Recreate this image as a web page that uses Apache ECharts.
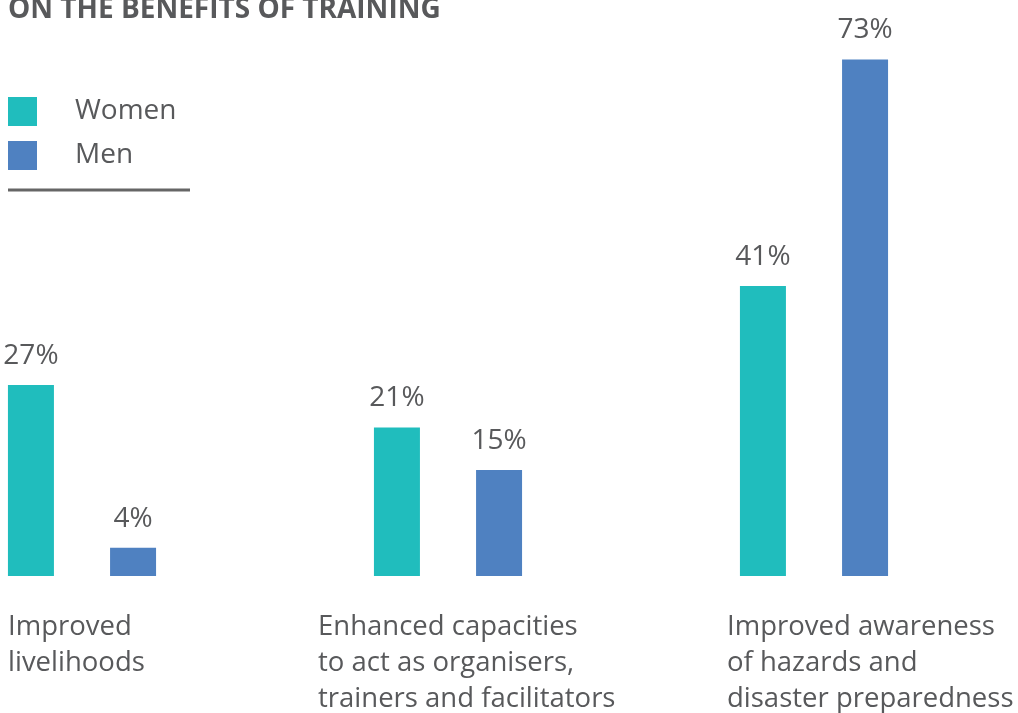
<!DOCTYPE html>
<html>
<head>
<meta charset="utf-8">
<script src="https://cdn.jsdelivr.net/npm/echarts@6/dist/echarts.min.js"></script>
<style>
  html, body { margin: 0; padding: 0; background: #fff; }
  #chart { width: 1018px; height: 713px; }
</style>
</head>
<body>
<div id="chart"></div>
<script>
var title = 'ON THE BENEFITS OF TRAINING'
var categories = [
  'Improved\nlivelihoods',
  'Enhanced capacities\nto act as organisers,\ntrainers and facilitators',
  'Improved awareness\nof hazards and\ndisaster preparedness'
]
var womenData = [27, 21, 41]
var menData = [4, 15, 73]

var textColor = '#58595b'
var font = '"Open Sans", sans-serif'
// label x offsets, the labels don't line up with the bars
var labelX = [8, 318, 727]

var chart = echarts.init(document.getElementById('chart'))

var graphics = [
  {
    type: 'text',
    left: 8,
    top: -4,
    style: { text: title, font: 'bold 28px ' + font, fill: textColor }
  },
  {
    type: 'line',
    shape: { x1: 8, y1: 190, x2: 190, y2: 190 },
    style: { stroke: '#666', lineWidth: 3 }
  }
]
categories.forEach(function (c, i) {
  graphics.push({
    type: 'text',
    left: labelX[i],
    top: 609,
    style: { text: c, font: '27.5px ' + font, fill: textColor, lineHeight: 36 }
  })
})

var labelStyle = {
  show: true,
  position: 'top',
  distance: 15,
  formatter: '{c}%',
  fontSize: 28,
  fontFamily: font,
  color: textColor
}

chart.setOption({
  animation: false,
  color: ['#20bdbd', '#4f81c1'],
  legend: {
    orient: 'vertical',
    left: 3,
    top: 92,
    icon: 'rect',
    itemWidth: 29,
    itemHeight: 29,
    itemGap: 15,
    textStyle: { fontSize: 28, lineHeight: 29, fontFamily: font, color: textColor, padding: [0, 0, 0, 33] },
    data: ['Women', 'Men']
  },
  // boundaryGap off so the ticks sit on the group centres
  grid: { left: 82, right: 204, top: 10, bottom: 137 },
  xAxis: {
    type: 'category',
    boundaryGap: false,
    data: categories,
    axisLine: { show: false },
    axisTick: { show: false },
    axisLabel: { show: false },
    splitLine: { show: false }
  },
  yAxis: {
    type: 'value',
    min: 0,
    max: 80,
    show: false,
    splitLine: { show: false }
  },
  graphic: graphics,
  series: [
    {
      name: 'Women',
      type: 'bar',
      barWidth: 46,
      barGap: '122%',
      data: womenData,
      label: labelStyle
    },
    {
      name: 'Men',
      type: 'bar',
      barWidth: 46,
      data: menData,
      label: labelStyle
    }
  ]
})
</script>
</body>
</html>
